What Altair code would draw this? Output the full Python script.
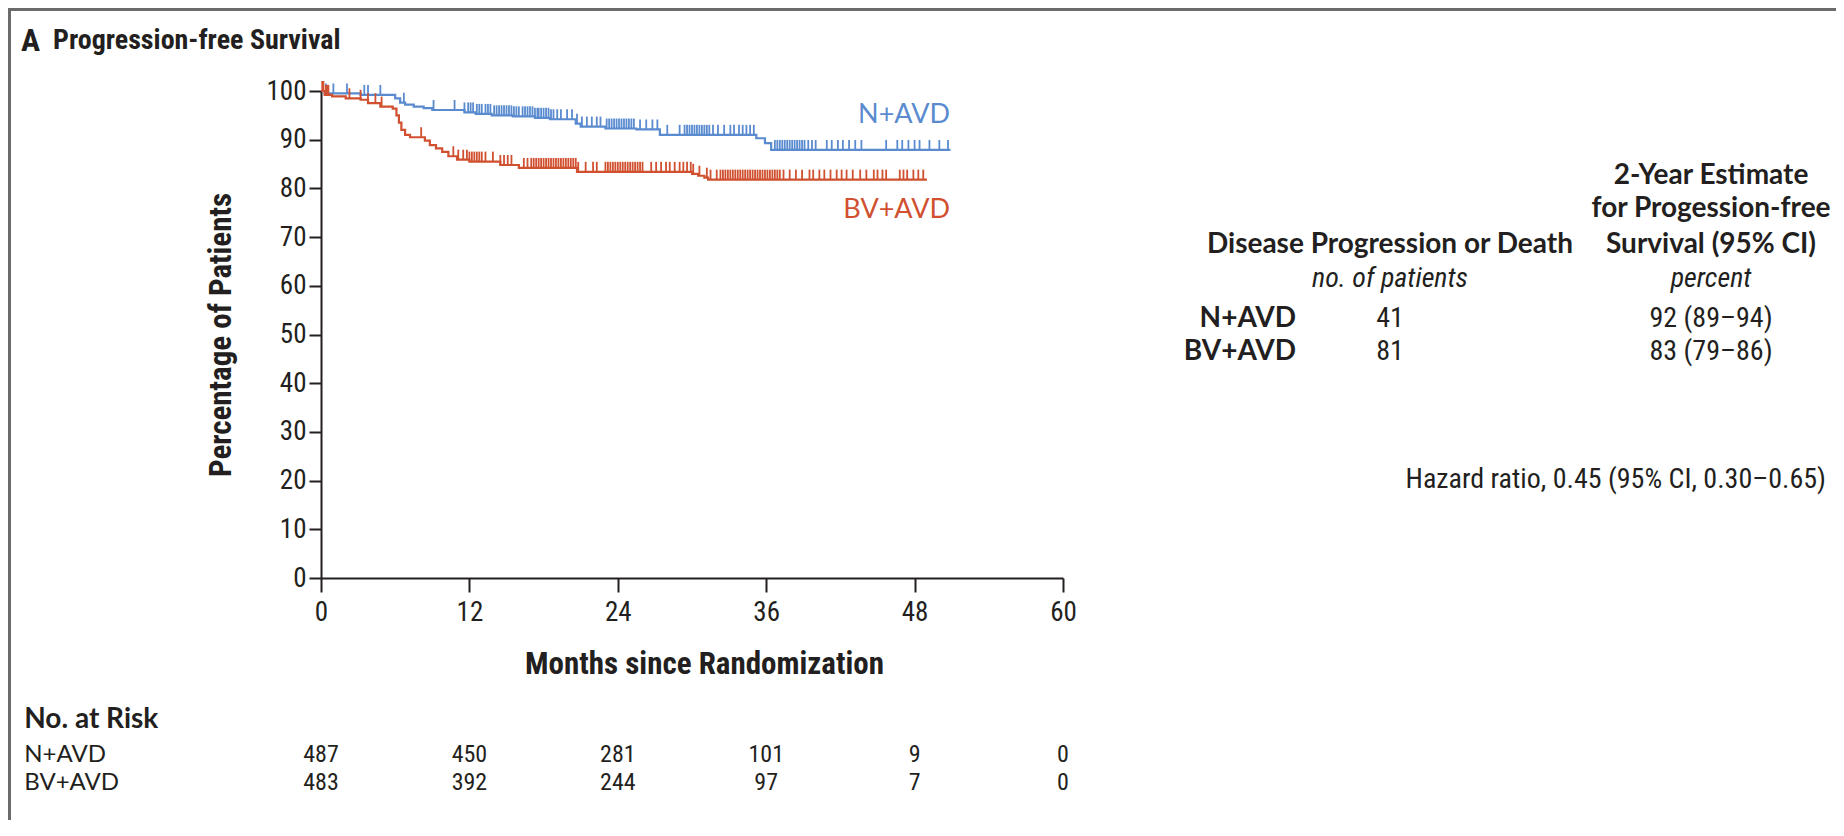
import altair as alt
import numpy as np
import pandas as pd

# ---------------- data ----------------
ARMS = ["N+AVD", "BV+AVD"]
ARM_COLORS = ["#5a8bcf", "#d0502f"]

# Kaplan-Meier step points (months, % progression-free)
n_step_months = [0, 0.3, 3.2, 6.0, 6.4, 6.8, 7.5, 8.3, 9.0, 11.6, 12.5, 13.8, 15.5, 17.3,
                 18.5, 20.6, 21.0, 23.0, 25.5, 27.4, 35.2, 35.9, 36.4, 50.9]
n_step_surv = [100, 99.5, 99.2, 98.5, 97.6, 97.2, 96.8, 96.5, 96.1, 95.6, 95.3, 95.0, 94.8, 94.5,
               94.2, 93.3, 92.7, 92.3, 92.1, 91.0, 90.3, 89.3, 87.9, 87.9]

bv_step_months = [0, 0.3, 0.9, 2.0, 3.2, 3.8, 4.8, 5.8, 6.1, 6.3, 6.5, 6.8, 7.2, 8.4, 8.8, 9.3,
                  9.8, 10.3, 11.0, 12.0, 14.5, 16.0, 20.7, 30.0, 30.5, 31.0, 31.3, 49.0]
bv_step_surv = [100, 99.2, 98.9, 98.5, 98.2, 97.5, 96.8, 96.4, 95.0, 93.5, 92.0, 91.0, 90.5, 89.8,
                88.9, 88.2, 87.5, 86.6, 85.9, 85.5, 84.8, 84.2, 83.4, 83.0, 82.6, 82.2, 81.8, 81.8]

# censoring times (months)
n_censor = [0.4, 1.0, 2.1, 3.5, 3.8, 4.8, 6.7, 9.1, 10.8, 11.6, 11.9, 12.1, 12.3, 12.6, 12.8, 13.0,
            13.3, 13.5, 13.7, 14.0, 14.2, 14.4, 14.6, 14.8, 15.0, 15.2, 15.4, 15.6, 15.8, 16.0,
            16.3, 16.5, 16.7, 16.9, 17.1, 17.3, 17.5, 17.6, 17.8, 18.0, 18.2, 18.4, 18.6, 18.8,
            19.1, 19.4, 19.9, 20.3, 20.7, 21.1, 21.5, 21.9, 22.3, 22.6, 23.1, 23.3, 23.5, 23.7,
            23.9, 24.1, 24.3, 24.5, 24.7, 24.9, 25.1, 25.3, 25.8, 26.3, 26.8, 27.2, 28.0, 29.0,
            29.4, 29.6, 29.8, 30.0, 30.2, 30.4, 30.6, 30.8, 31.0, 31.2, 31.4, 31.7, 32.1, 32.6,
            33.1, 33.4, 33.8, 34.1, 34.4, 34.7, 35.0, 36.7, 36.9, 37.1, 37.3, 37.5, 37.7, 37.9,
            38.1, 38.3, 38.5, 38.7, 38.9, 39.1, 39.4, 39.7, 40.0, 40.9, 41.3, 41.8, 42.2, 42.7,
            43.2, 43.7, 45.7, 46.6, 47.0, 47.5, 48.0, 48.4, 49.2, 50.0, 50.7]
bv_censor = [0.1, 0.2, 0.4, 0.5, 0.6, 2.3, 3.2, 3.8, 4.4, 4.9, 8.1, 10.7, 11.1, 11.5, 11.8, 12.0,
             12.2, 12.4, 12.6, 12.8, 13.0, 13.3, 13.9, 14.5, 14.8, 15.1, 15.4, 16.4, 16.7, 17.0,
             17.2, 17.4, 17.6, 17.8, 18.0, 18.2, 18.4, 18.6, 18.8, 19.0, 19.2, 19.4, 19.6, 19.8,
             20.0, 20.2, 20.4, 20.6, 20.8, 21.4, 22.0, 22.3, 23.0, 23.2, 23.4, 23.6, 23.8, 24.0,
             24.2, 24.4, 24.6, 24.8, 25.0, 25.2, 25.4, 25.6, 25.8, 26.0, 26.7, 27.1, 27.5, 27.9,
             28.2, 28.6, 29.0, 29.3, 29.6, 29.9, 30.1, 30.6, 31.2, 31.5, 32.0, 32.3, 32.5, 32.7,
             32.9, 33.1, 33.3, 33.5, 33.7, 33.9, 34.1, 34.3, 34.5, 34.7, 34.9, 35.1, 35.3, 35.5,
             35.7, 35.9, 36.1, 36.3, 36.5, 36.7, 36.9, 37.1, 37.4, 37.9, 38.4, 38.9, 39.5, 39.8,
             40.3, 40.7, 41.2, 41.7, 42.1, 42.5, 43.0, 43.6, 44.1, 44.7, 45.0, 45.4, 45.7, 46.8,
             47.1, 47.4, 47.9, 48.3, 48.7]

# number at risk
risk_months = [0, 12, 24, 36, 48, 60]
risk_n = [487, 450, 281, 101, 9, 0]
risk_bv = [483, 392, 244, 97, 7, 0]

# summary table
events = ["41", "81"]
estimates = ["92 (89–94)", "83 (79–86)"]
hazard_text = "Hazard ratio, 0.45 (95% CI, 0.30–0.65)"

# ---------------- tables ----------------
def surv_at(months, survs, t):
    i = np.searchsorted(np.array(months), t, side="right") - 1
    return float(np.array(survs)[i])

curve_df = pd.concat([
    pd.DataFrame({"x": n_step_months, "y": n_step_surv, "arm": ARMS[0]}),
    pd.DataFrame({"x": bv_step_months, "y": bv_step_surv, "arm": ARMS[1]}),
])
cens_df = pd.concat([
    pd.DataFrame({"x": n_censor, "y": [surv_at(n_step_months, n_step_surv, t) for t in n_censor], "arm": ARMS[0]}),
    pd.DataFrame({"x": bv_censor, "y": [surv_at(bv_step_months, bv_step_surv, t) for t in bv_censor], "arm": ARMS[1]}),
])

# annotation anchor positions, in data units (months, percent)
ROW_Y = [-36.3, -42.1]
risk_df = pd.DataFrame({
    "x": risk_months * 2,
    "y": [ROW_Y[0]] * 6 + [ROW_Y[1]] * 6,
    "text": [str(v) for v in risk_n + risk_bv],
})

FONT = "Roboto Condensed, Liberation Sans Narrow, DejaVu Sans Condensed, sans-serif"
FONT_REG = "Lato, Open Sans, sans-serif"
INK = "#231f20"

xscale = alt.Scale(domain=[0, 60], nice=False, zero=False)
yscale = alt.Scale(domain=[0, 100], nice=False, zero=False)
color = alt.Color("arm:N", scale=alt.Scale(domain=ARMS, range=ARM_COLORS), legend=None)

X = alt.X("x:Q", scale=xscale, axis=alt.Axis(
    values=risk_months, title="Months since Randomization", labelFlush=False,
    titleX=383, titleY=86, titleBaseline="middle", titleAlign="center",
    titleFont=FONT, titleFontSize=31, titleFontWeight="bold", titleColor=INK,
    labelFont=FONT, labelFontSize=27, labelColor=INK, labelPadding=7,
    tickSize=14, tickWidth=2, tickColor=INK, domainColor=INK, domainWidth=2, grid=False))
Y = alt.Y("y:Q", scale=yscale, axis=alt.Axis(
    values=list(range(0, 101, 10)), title="Percentage of Patients", labelFlush=False,
    titleX=-100, titleY=243.5, titleAngle=-90, titleBaseline="middle", titleAlign="center",
    titleFont=FONT, titleFontSize=31, titleFontWeight="bold", titleColor=INK,
    labelFont=FONT, labelFontSize=27, labelColor=INK, labelPadding=3,
    tickSize=12, tickWidth=2, tickColor=INK, domainColor=INK, domainWidth=2, grid=False))

lines = alt.Chart(curve_df).mark_line(interpolate="step-after", strokeWidth=2.2).encode(
    x=X, y=Y, color=color, detail="arm:N")
ticks = alt.Chart(cens_df).mark_point(shape="M0,0L0,-1", size=400, filled=False, strokeWidth=1.8,
                                     opacity=1).encode(x=X, y=Y, color=color)

def text_layer(df, **mk):
    base = dict(font=FONT, fontSize=25, color=INK, baseline="middle")
    base.update(mk)
    return alt.Chart(pd.DataFrame(df)).mark_text(**base).encode(x=X, y=Y, text="text:N")

curve_labels = alt.Chart(pd.DataFrame({"x": [50.86, 50.86], "y": [95.1, 75.6], "arm": ARMS,
                                       "text": ARMS})).mark_text(
    font=FONT_REG, fontSize=27, align="right", baseline="middle").encode(
    x=X, y=Y, text="text:N", color=color)

title_a = text_layer({"x": [-24.26], "y": [110.3], "text": ["A"]}, fontSize=32, fontWeight="bold", align="left")
title_t = text_layer({"x": [-21.67], "y": [110.3], "text": ["Progression-free Survival"]},
                     fontSize=28, fontWeight="bold", align="left")

risk_head = text_layer({"x": [-24.0], "y": [-29.2], "text": ["No. at Risk"]}, font=FONT_REG,
                       fontSize=28, fontWeight="bold", align="left")
risk_rows = text_layer({"x": [-24.0, -24.0], "y": ROW_Y, "text": ARMS}, font=FONT_REG,
                       fontSize=24, align="left")
risk_nums = text_layer(risk_df, fontSize=24, align="center")

tab_heads = text_layer({"x": [86.44, 112.4, 112.4, 112.4],
                        "y": [68.4, 82.55, 75.8, 68.4],
                        "text": ["Disease Progression or Death", "2-Year Estimate",
                                 "for Progession-free", "Survival (95% CI)"]},
                       font=FONT_REG, fontSize=28, fontWeight="bold", align="center")
tab_sub = text_layer({"x": [86.44, 112.4], "y": [61.4, 61.4], "text": ["no. of patients", "percent"]},
                     fontSize=28, fontStyle="italic", align="center")
tab_arms = text_layer({"x": [78.84, 78.84], "y": [53.2, 46.4], "text": ARMS},
                      font=FONT_REG, fontSize=28, fontWeight="bold", align="right")
tab_vals = text_layer({"x": [86.44, 86.44, 112.4, 112.4], "y": [53.2, 46.4, 53.2, 46.4],
                       "text": events + estimates}, fontSize=28, align="center")
tab_hr = text_layer({"x": [121.7], "y": [20.1], "text": [hazard_text]}, fontSize=28, align="right")

one = pd.DataFrame({"k": [0]})
frame_left = alt.Chart(one).mark_rule(color="#6b6b6b", strokeWidth=3).encode(
    x=alt.value(-311.5), y=alt.value(-83), y2=alt.value(729))
frame_top = alt.Chart(one).mark_rule(color="#6b6b6b", strokeWidth=3).encode(
    x=alt.value(-313), x2=alt.value(1515), y=alt.value(-81.5))

chart = alt.layer(
    frame_left, frame_top, lines, ticks, curve_labels, title_a, title_t,
    risk_head, risk_rows, risk_nums, tab_heads, tab_sub, tab_arms, tab_vals, tab_hr,
).properties(
    width=742, height=487,
    autosize=alt.AutoSizeParams(type="none"),
    padding={"left": 313, "top": 83, "right": 773, "bottom": 242},
    background="white",
).configure_view(stroke=None)

chart.save("out.html", embed_options={"renderer": "svg", "actions": False})
